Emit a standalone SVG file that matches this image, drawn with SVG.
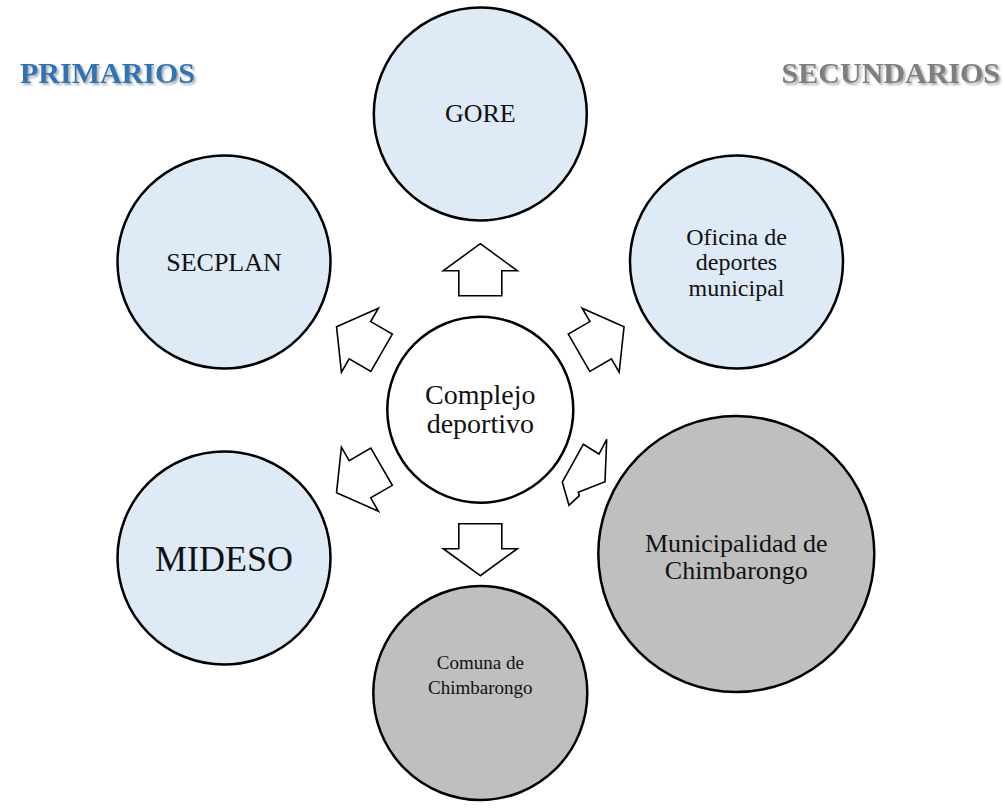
<svg xmlns="http://www.w3.org/2000/svg" width="1005" height="809" viewBox="0 0 1005 809">
<defs>
<style>
.blue{fill:#DEEAF6;stroke:#000;stroke-width:2.5}
.gray{fill:#BFBFBF;stroke:#000;stroke-width:2.5}
.white{fill:#fff;stroke:#000;stroke-width:2.5}
.t{font-family:"Liberation Serif","Times New Roman",serif;fill:#111;text-anchor:middle}
.title{font-family:"Liberation Serif","Times New Roman",serif;font-weight:bold;font-size:30px;text-anchor:end}
.arrow{fill:#fff;stroke:#000;stroke-width:1.6;stroke-linejoin:miter}
</style>
<filter id="sh" x="-10%" y="-30%" width="130%" height="170%">
<feDropShadow dx="2" dy="2" stdDeviation="1" flood-color="#888" flood-opacity="0.7"/>
</filter>
<path id="arr" d="M0,-166 L37,-139 L21.5,-139 L21.5,-114 L-21.5,-114 L-21.5,-139 L-37,-139 Z"/>
</defs>
<rect width="1005" height="809" fill="#fff"/>

<g id="titles">
<text class="title" x="195" y="83" fill="#2E74B5" filter="url(#sh)">PRIMARIOS</text>
<text class="title" x="1000" y="83" fill="#7F7F7F" filter="url(#sh)">SECUNDARIOS</text>
</g>

<g id="connectors" transform="translate(480.3,409.7)">
<use href="#arr" class="arrow"/>
<use href="#arr" class="arrow" transform="rotate(-60)"/>
<use href="#arr" class="arrow" transform="rotate(60)"/>
<use href="#arr" class="arrow" transform="rotate(-120)"/>
<use href="#arr" class="arrow" transform="rotate(180)"/>
<polygon class="arrow" transform="translate(-480.3,-409.7)" points="583.3,444.3 599,454 606.7,439.3 605,481.7 578.3,492.3 579.3,495.7 569,505.3 562.3,482"/>
</g>

<g id="gore">
<circle class="blue" cx="480.3" cy="114" r="106.5"/>
<text class="t" x="480.3" y="122" font-size="26">GORE</text>
</g>

<g id="secplan">
<circle class="blue" cx="224" cy="262" r="106.5"/>
<text class="t" x="224" y="271" font-size="26">SECPLAN</text>
</g>

<g id="oficina">
<circle class="blue" cx="736.5" cy="262" r="106.5"/>
<text class="t" x="736.5" y="245" font-size="24">Oficina de</text>
<text class="t" x="736.5" y="270" font-size="24">deportes</text>
<text class="t" x="736.5" y="296" font-size="24">municipal</text>
</g>

<g id="mideso">
<circle class="blue" cx="224" cy="558" r="106.5"/>
<text class="t" x="224" y="571" font-size="36">MIDESO</text>
</g>

<g id="municipalidad">
<circle class="gray" cx="736.3" cy="554" r="138"/>
<text class="t" x="736.3" y="551.7" font-size="26">Municipalidad de</text>
<text class="t" x="736.3" y="579" font-size="26">Chimbarongo</text>
</g>

<g id="comuna">
<circle class="gray" cx="480.3" cy="693" r="107"/>
<text class="t" x="480.3" y="669" font-size="19">Comuna de</text>
<text class="t" x="480.3" y="694" font-size="19">Chimbarongo</text>
</g>

<g id="complejo">
<circle class="white" cx="480.3" cy="409.7" r="93"/>
<text class="t" x="480.3" y="404" font-size="28">Complejo</text>
<text class="t" x="480.3" y="432.5" font-size="28">deportivo</text>
</g>
</svg>
